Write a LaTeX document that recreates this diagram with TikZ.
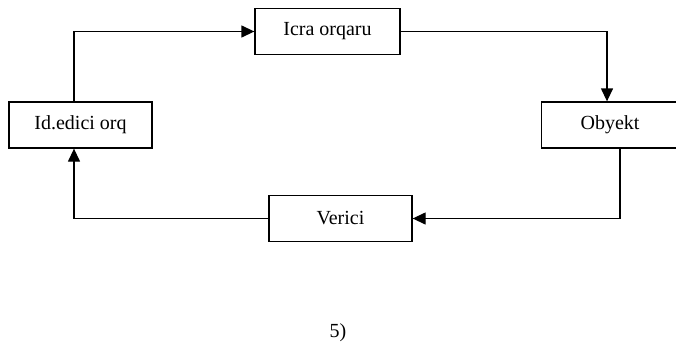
\documentclass[tikz,border=0pt]{standalone}
\usepackage{fontspec}
\setmainfont{Liberation Serif}
\usetikzlibrary{arrows.meta}
\begin{document}
\begin{tikzpicture}[x=1pt,y=-1pt,
  blk/.style={draw,line width=1.3pt,minimum height=46pt,inner sep=0pt,font=\fontsize{20}{22}\selectfont},
  conn/.style={line width=1.3pt,-{Triangle[length=13pt,width=12pt]}}]
\useasboundingbox (0,0) rectangle (676,356);
\clip (0,0) rectangle (676,356);
\node[blk,minimum width=145pt] (icra) at (327.5,31.5) {Icra orqaru};
\node[blk,minimum width=143pt] (id) at (80.5,125) {Id.edici orq};
\node[blk,minimum width=137pt] (ob) at (610,125) {Obyekt};
\node[blk,minimum width=143pt] (ver) at (340.5,218.5) {Verici};
\node[font=\fontsize{20}{22}\selectfont] (lab) at (338,333) {5)};
\coordinate (c1) at (74,31.5);
\coordinate (c2) at (607,31.5);
\coordinate (c3) at (620,218.5);
\coordinate (c4) at (74,218.5);
\draw[conn] (74,0 |- id.north) -- (c1) -- (icra.west);
\draw[conn] (icra.east) -- (c2) -- (607,0 |- ob.north);
\draw[conn] (620,0 |- ob.south) -- (c3) -- (ver.east);
\draw[conn] (ver.west) -- (c4) -- (74,0 |- id.south);
\end{tikzpicture}
\end{document}
